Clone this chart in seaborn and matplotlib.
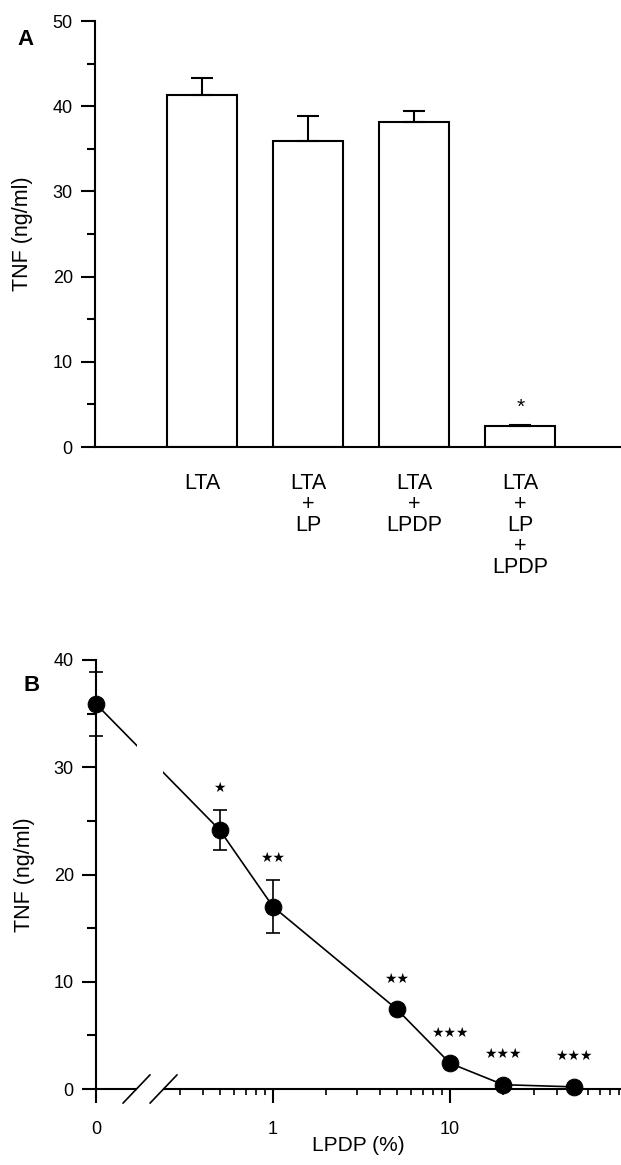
import numpy as np
import matplotlib
matplotlib.use("Agg")
import matplotlib.pyplot as plt
import matplotlib.patches as mpatches
from matplotlib.ticker import FixedLocator, NullFormatter
import seaborn as sns

sns.set_style("ticks")
plt.rcParams["font.family"] = ["Liberation Sans", "DejaVu Sans"]
plt.rcParams["text.color"] = "black"
plt.rcParams["axes.labelcolor"] = "black"
plt.rcParams["xtick.color"] = "black"
plt.rcParams["ytick.color"] = "black"

# Panel A: TNF release for each treatment
treatments = ["LTA", "LTA\n+\nLP", "LTA\n+\nLPDP", "LTA\n+\nLP\n+\nLPDP"]
tnf_a = [41.3, 35.9, 38.15, 2.45]
err_a = [2.0, 2.95, 1.3, 0.15]
stars_a = ["", "", "", "*"]

# Panel B: TNF vs LPDP concentration
lpdp = [0, 0.5, 1, 5, 10, 20, 50]
tnf_b = [35.9, 24.15, 17.0, 7.45, 2.4, 0.4, 0.2]
err_b = [3.0, 1.85, 2.45, 0, 0, 0, 0]
stars_b = ["", "★", "★★", "★★", "★★★", "★★★", "★★★"]

ZERO_POS = 0.1  # where "0" sits on the broken log axis

W, H = 621, 1165
fig = plt.figure(figsize=(W / 100, H / 100), dpi=100)


def px_axes(left, top, right, bottom):
    return fig.add_axes([left / W, 1 - bottom / H, (right - left) / W, (bottom - top) / H])


ax_a = px_axes(95, 21, 621, 447)
ax_b = px_axes(96, 660, 621, 1089)

# ---- Panel A ----
sns.barplot(x=treatments, y=tnf_a, color="white", saturation=1, edgecolor="black",
            linewidth=1.5, width=0.66, errorbar=None, ax=ax_a, zorder=2)
ax_a.errorbar(range(len(tnf_a)), tnf_a, yerr=[np.zeros(len(err_a)), err_a], fmt="none",
              ecolor="black", elinewidth=1.5, capsize=8, capthick=1.5, zorder=3)
for i, (v, e, s) in enumerate(zip(tnf_a, err_a, stars_a)):
    if s:
        ax_a.annotate(s, (i, v + e), xytext=(0, 9), textcoords="offset points",
                      ha="center", va="baseline", fontsize=15)

ax_a.set_xlim(-1.01, 3.95)
ax_a.set_ylim(0, 50)
ax_a.set_yticks(range(0, 51, 10))
ax_a.yaxis.set_minor_locator(FixedLocator(range(5, 50, 10)))
ax_a.tick_params(axis="y", which="major", length=10, width=1.5, pad=6, labelsize=13)
ax_a.tick_params(axis="y", which="minor", length=6, width=1.5)
ax_a.tick_params(axis="x", length=0, pad=19, labelsize=15.5)
for lab in ax_a.get_xticklabels():
    lab.set_linespacing(1.0)
ax_a.set_xlabel("")
ax_a.set_ylabel("TNF (ng/ml)", fontsize=15.5)
ax_a.yaxis.set_label_coords(-0.118, 0.5)

# ---- Panel B ----
x_b = [v if v > 0 else ZERO_POS for v in lpdp]
sns.lineplot(x=x_b, y=tnf_b, color="black", linewidth=1.2, marker="o", markersize=12,
             markeredgecolor="black", ax=ax_b, clip_on=False, zorder=4)
ax_b.errorbar(x_b, tnf_b, yerr=err_b, fmt="none", ecolor="black", elinewidth=1.2,
              capsize=5, capthick=1.2, clip_on=False, zorder=3)
for x, y, e, s in zip(x_b, tnf_b, err_b, stars_b):
    if s:
        ax_b.annotate(s, (x, y + e), xytext=(0, 16 if e > 0 else 22),
                      textcoords="offset points", ha="center", va="center",
                      fontsize=10, family="DejaVu Sans")

ax_b.set_xscale("log")
ax_b.set_xlim(ZERO_POS, 92.5)
ax_b.set_ylim(0, 40)
ax_b.xaxis.set_major_locator(FixedLocator([ZERO_POS, 1, 10]))
ax_b.set_xticklabels(["0", "1", "10"])
minor = [m * d for d in (0.1, 1, 10) for m in range(2, 10) if 0.3 <= m * d < 92]
ax_b.xaxis.set_minor_locator(FixedLocator(minor))
ax_b.xaxis.set_minor_formatter(NullFormatter())
ax_b.set_yticks(range(0, 41, 10))
ax_b.yaxis.set_minor_locator(FixedLocator(range(5, 40, 10)))
ax_b.tick_params(axis="both", which="major", length=10, width=1.5, labelsize=13)
ax_b.tick_params(axis="y", which="major", pad=6)
ax_b.tick_params(axis="x", which="major", pad=13)
ax_b.tick_params(axis="y", which="minor", length=6.5, width=1.5)
ax_b.tick_params(axis="x", which="minor", length=4.5, width=1.2)
ax_b.set_xlabel("LPDP (%)", fontsize=15)
ax_b.xaxis.set_label_coords(0.5, -0.11)
ax_b.set_ylabel("TNF (ng/ml)", fontsize=15.5)
ax_b.yaxis.set_label_coords(-0.116, 0.5)

# axis break
ax_b.add_patch(mpatches.Rectangle((0.078, -0.025), 0.05, 1.03, transform=ax_b.transAxes,
                                  facecolor="white", edgecolor="none", clip_on=False, zorder=5))
for x0 in (0.0514, 0.1029):
    ax_b.plot([x0, x0 + 0.0515], [-0.033, 0.033], transform=ax_b.transAxes,
              color="black", lw=1.2, clip_on=False, zorder=6)

for ax in (ax_a, ax_b):
    sns.despine(ax=ax)
    for sp in ("left", "bottom"):
        ax.spines[sp].set_linewidth(1.5)
        ax.spines[sp].set_color("black")

fig.text(25 / W, 1 - 39.5 / H, "A", fontsize=16, fontweight="bold", ha="center", va="center")
fig.text(31.5 / W, 1 - 685.5 / H, "B", fontsize=16, fontweight="bold", ha="center", va="center")

fig.savefig("out.png", dpi=100)
